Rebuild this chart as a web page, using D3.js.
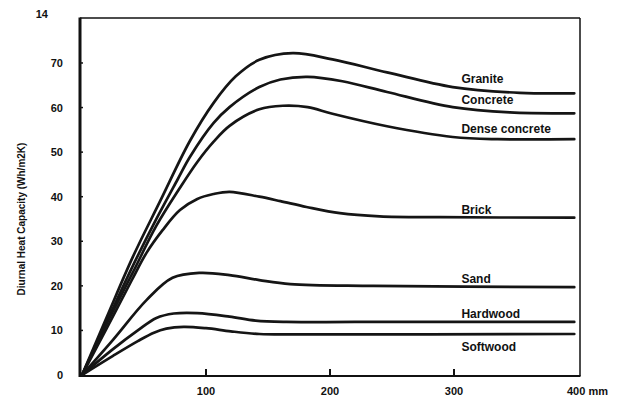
<!DOCTYPE html>
<html>
<head>
<meta charset="utf-8">
<script src="https://cdn.jsdelivr.net/npm/d3@7/dist/d3.min.js"></script>
<style>
  body { margin: 0; background: #fff; }
  svg text { font-family: "Liberation Sans", Arial, sans-serif; font-weight: bold; fill: #111; }
</style>
</head>
<body>
<svg id="chart" width="625" height="397"></svg>
<script>
// Diurnal heat capacity vs. thickness (mm)
const granite = [[0,0],[20,13],[41,26.5],[63,39],[87,52.5],[106,61],[124,67],[143,70.7],[170,72.2],[202,70.8],[246,67.9],[299,64.6],[353,63.3],[397,63.2]];
const concrete = [[0,0],[20,12],[41,24.5],[60,35],[77,43.8],[87,48.9],[106,56.5],[119,60.1],[143,64.6],[160,66.3],[182,66.9],[210,65.9],[246,63.5],[299,60.1],[345,58.9],[397,58.7]];
const denseConcrete = [[0,0],[20,11.5],[41,23],[60,33.5],[79,42],[93,47.8],[106,52.3],[119,55.9],[143,59.6],[162,60.4],[182,60.1],[202,58.6],[246,55.8],[299,53.4],[335,52.9],[397,52.9]];
const brick = [[0,0],[20,10.5],[40,21.2],[52,27.4],[65,32.5],[79,37],[93,39.5],[106,40.6],[119,41.1],[143,40],[160,39],[181,37.7],[208,36.3],[240,35.6],[289,35.4],[397,35.3]];
const sand = [[0,0],[25,7.9],[52,16.8],[73,21.8],[95,22.9],[119,22.4],[143,21.3],[168,20.4],[235,20],[397,19.7]];
const hardwood = [[0,0],[25,5.8],[45,10],[60,12.8],[74,13.8],[93,13.9],[119,13.1],[140,12.2],[165,11.9],[220,11.9],[397,11.9]];
const softwood = [[0,0],[25,4.3],[45,7.6],[58,9.5],[68,10.4],[82,10.8],[100,10.5],[120,9.8],[143,9.2],[170,9.1],[397,9.2]];

const seriesNames = ['Granite', 'Concrete', 'Dense concrete', 'Brick', 'Sand', 'Hardwood', 'Softwood'];
const seriesData = [granite, concrete, denseConcrete, brick, sand, hardwood, softwood];

const yTicks = [0, 10, 20, 30, 40, 50, 60, 70];
const xTicks = [100, 200, 300];
const topLabel = '14';
const xEndLabel = '400 mm';
const yTitle = 'Diurnal Heat Capacity (Wh/m2K)';

const svg = d3.select('#chart');

const x = d3.scaleLinear().domain([0, 400]).range([82, 578]);
const y = d3.scaleLinear().domain([0, 80]).range([375, 18.4]);

const boxL = 80, boxR = 580, boxT = 18, boxB = 376;

// frame
svg.append('line').attr('x1', boxL).attr('x2', boxR).attr('y1', boxT).attr('y2', boxT)
  .attr('stroke', '#111').attr('stroke-width', 1.5);
svg.append('line').attr('x1', boxR).attr('x2', boxR).attr('y1', boxT).attr('y2', boxB)
  .attr('stroke', '#111').attr('stroke-width', 1.5);
svg.append('line').attr('x1', boxL).attr('x2', boxR + 0.5).attr('y1', boxB).attr('y2', boxB)
  .attr('stroke', '#111').attr('stroke-width', 2);
svg.append('line').attr('x1', boxL).attr('x2', boxL).attr('y1', boxT - 0.5).attr('y2', boxB + 1)
  .attr('stroke', '#111').attr('stroke-width', 3);

// y ticks + labels
svg.append('g').selectAll('line')
  .data(yTicks.slice(1))
  .join('line')
  .attr('x1', boxL).attr('x2', boxL + 3)
  .attr('y1', d => y(d)).attr('y2', d => y(d))
  .attr('stroke', '#111').attr('stroke-width', 1.5);

svg.append('g').selectAll('text')
  .data(yTicks)
  .join('text')
  .attr('x', 63)
  .attr('y', d => y(d))
  .attr('dy', '0.36em')
  .attr('text-anchor', 'end')
  .attr('font-size', '11px')
  .text(d => d);

svg.append('text')
  .attr('x', 48).attr('y', y(80) - 4)
  .attr('dy', '0.36em')
  .attr('text-anchor', 'end')
  .attr('font-size', '11px')
  .text(topLabel);

// x ticks + labels
svg.append('g').selectAll('line')
  .data(xTicks)
  .join('line')
  .attr('x1', d => x(d)).attr('x2', d => x(d))
  .attr('y1', boxB).attr('y2', boxB - 7)
  .attr('stroke', '#111').attr('stroke-width', 2);

svg.append('g').selectAll('text')
  .data(xTicks)
  .join('text')
  .attr('x', d => x(d))
  .attr('y', 395)
  .attr('text-anchor', 'middle')
  .attr('font-size', '11px')
  .text(d => d);

svg.append('text')
  .attr('x', x(400) - 11).attr('y', 395)
  .attr('font-size', '11px')
  .text(xEndLabel);

// y title
svg.append('text')
  .attr('transform', 'translate(25,219) rotate(-90)')
  .attr('text-anchor', 'middle')
  .attr('font-size', '10px')
  .text(yTitle);

// curves
const line = d3.line()
  .x(d => x(d[0]))
  .y(d => y(d[1]))
  .curve(d3.curveCatmullRom.alpha(0.5));

svg.append('g').selectAll('path')
  .data(seriesData)
  .join('path')
  .attr('d', line)
  .attr('fill', 'none')
  .attr('stroke', '#151515')
  .attr('stroke-width', 2.7)
  .attr('stroke-linejoin', 'round')
  .attr('stroke-linecap', 'round');

// series labels, just above the line at 300 mm (softwood sits below)
const valueAt = (pts, xv) => {
  const i = d3.bisector(d => d[0]).left(pts, xv);
  const a = pts[i - 1], b = pts[i];
  return a[1] + (b[1] - a[1]) * (xv - a[0]) / (b[0] - a[0]);
};

svg.append('g').selectAll('text')
  .data(seriesNames)
  .join('text')
  .attr('x', x(306))
  .attr('y', (d, i) => {
    const yy = y(valueAt(seriesData[i], 300));
    return d === 'Softwood' ? yy + 12 : yy - 8;
  })
  .attr('dy', '0.36em')
  .attr('font-size', '12px')
  .text(d => d);
</script>
</body>
</html>
